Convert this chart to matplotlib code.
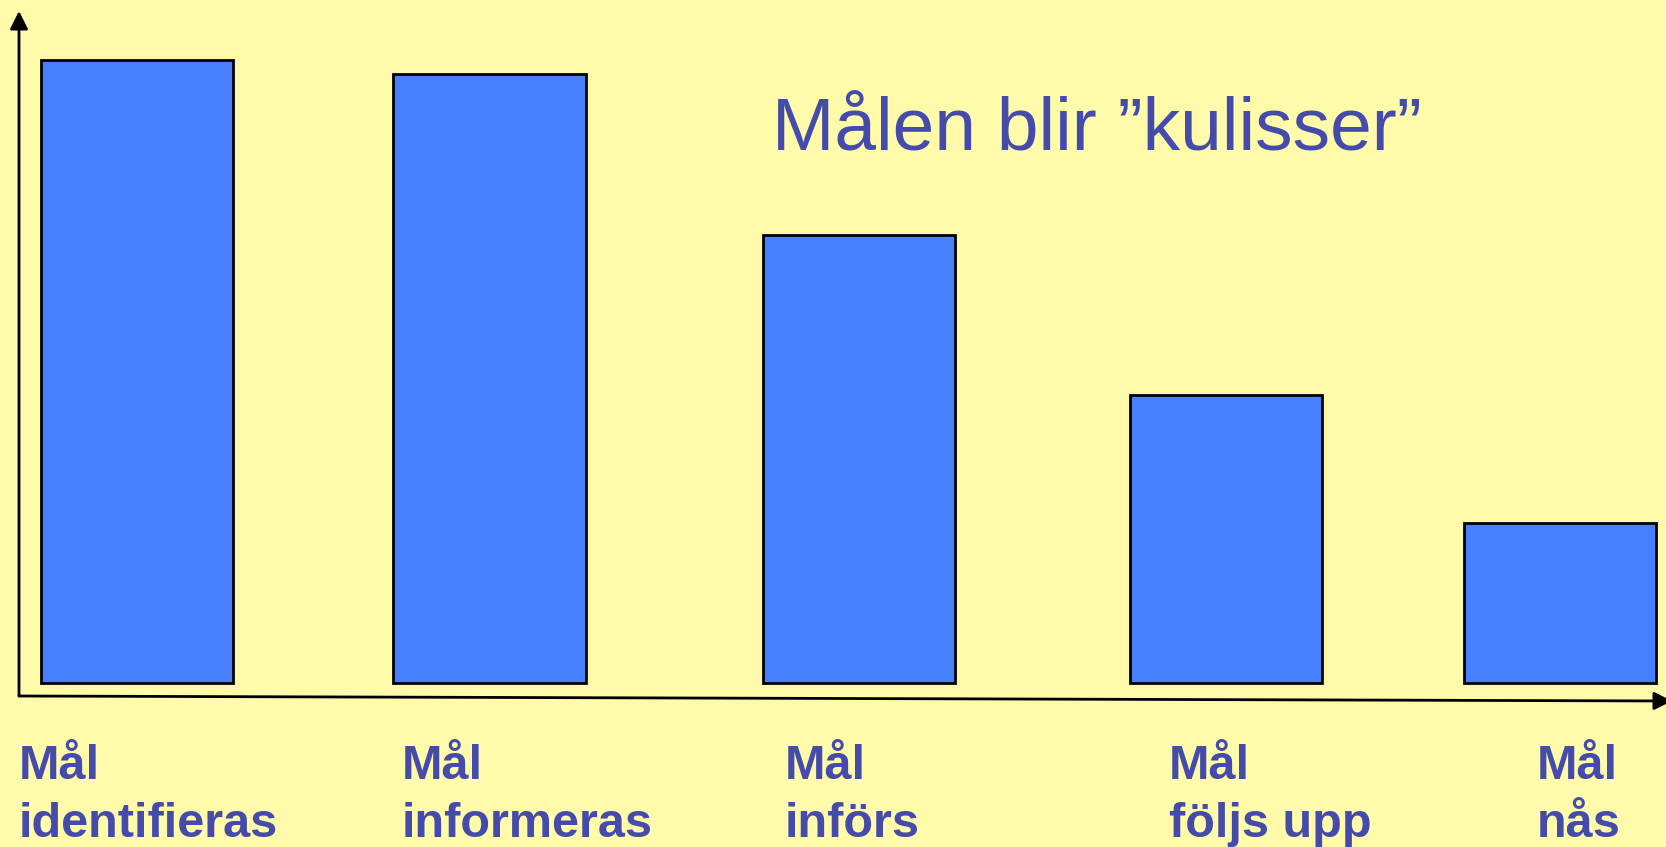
import matplotlib
matplotlib.use("Agg")
import matplotlib.pyplot as plt
from matplotlib.transforms import blended_transform_factory

# data
categories = ["Mål\nidentifieras", "Mål\ninformeras", "Mål\ninförs", "Mål\nföljs upp", "Mål\nnås"]
values = [100, 97.7, 71.9, 46.2, 25.7]
title = "Målen blir \u201dkulisser\u201d"

# layout (bars are not evenly spaced in the original slide)
bar_x = [0, 0.99, 2.03, 3.06, 4.0]
label_x = [-0.333, 0.744, 1.821, 2.901, 3.935]
bar_w = 0.54

bg = "#FFFBAA"
bar_col = "#4680FF"
txt_col = "#444BAA"

plt.rcParams["font.family"] = ["Liberation Sans", "DejaVu Sans"]

fig = plt.figure(figsize=(16.66, 8.47), dpi=100, facecolor=bg)
ax = fig.add_axes([19 / 1666, 164 / 847, 1 - 19 / 1666, 672 / 847])
ax.set_facecolor("none")

bars = ax.bar(bar_x, values, width=bar_w, color=bar_col, edgecolor="black", linewidth=2.0)
for b in bars:
    b.set_clip_on(False)
ax.set_xlim(-0.333, 4.298)
ax.set_ylim(0, 107.8)
ax.axis("off")

# axis arrows, drawn by hand like on the slide
arrow = dict(arrowstyle="-|>", lw=2.0, color="black", mutation_scale=27,
             shrinkA=0, shrinkB=0)
ax.annotate("", xy=(19, 836), xytext=(19, 151), xycoords="figure pixels",
            textcoords="figure pixels", arrowprops=arrow)
ax.annotate("", xy=(1672, 146), xytext=(19, 151), xycoords="figure pixels",
            textcoords="figure pixels", arrowprops=arrow)

# category labels under the axis (baseline = last line)
trans = blended_transform_factory(ax.transData, fig.transFigure)
for lx, lab in zip(label_x, categories):
    ax.text(lx, 1 - 837 / 847, lab, transform=trans, ha="left", va="baseline",
            fontsize=35, fontweight="bold", color=txt_col, linespacing=1.36,
            clip_on=False)

fig.text(772 / 1666, 1 - 149 / 847, title, ha="left", va="baseline",
         fontsize=54, color=txt_col)

fig.savefig("out.png", dpi=100, facecolor=bg)
